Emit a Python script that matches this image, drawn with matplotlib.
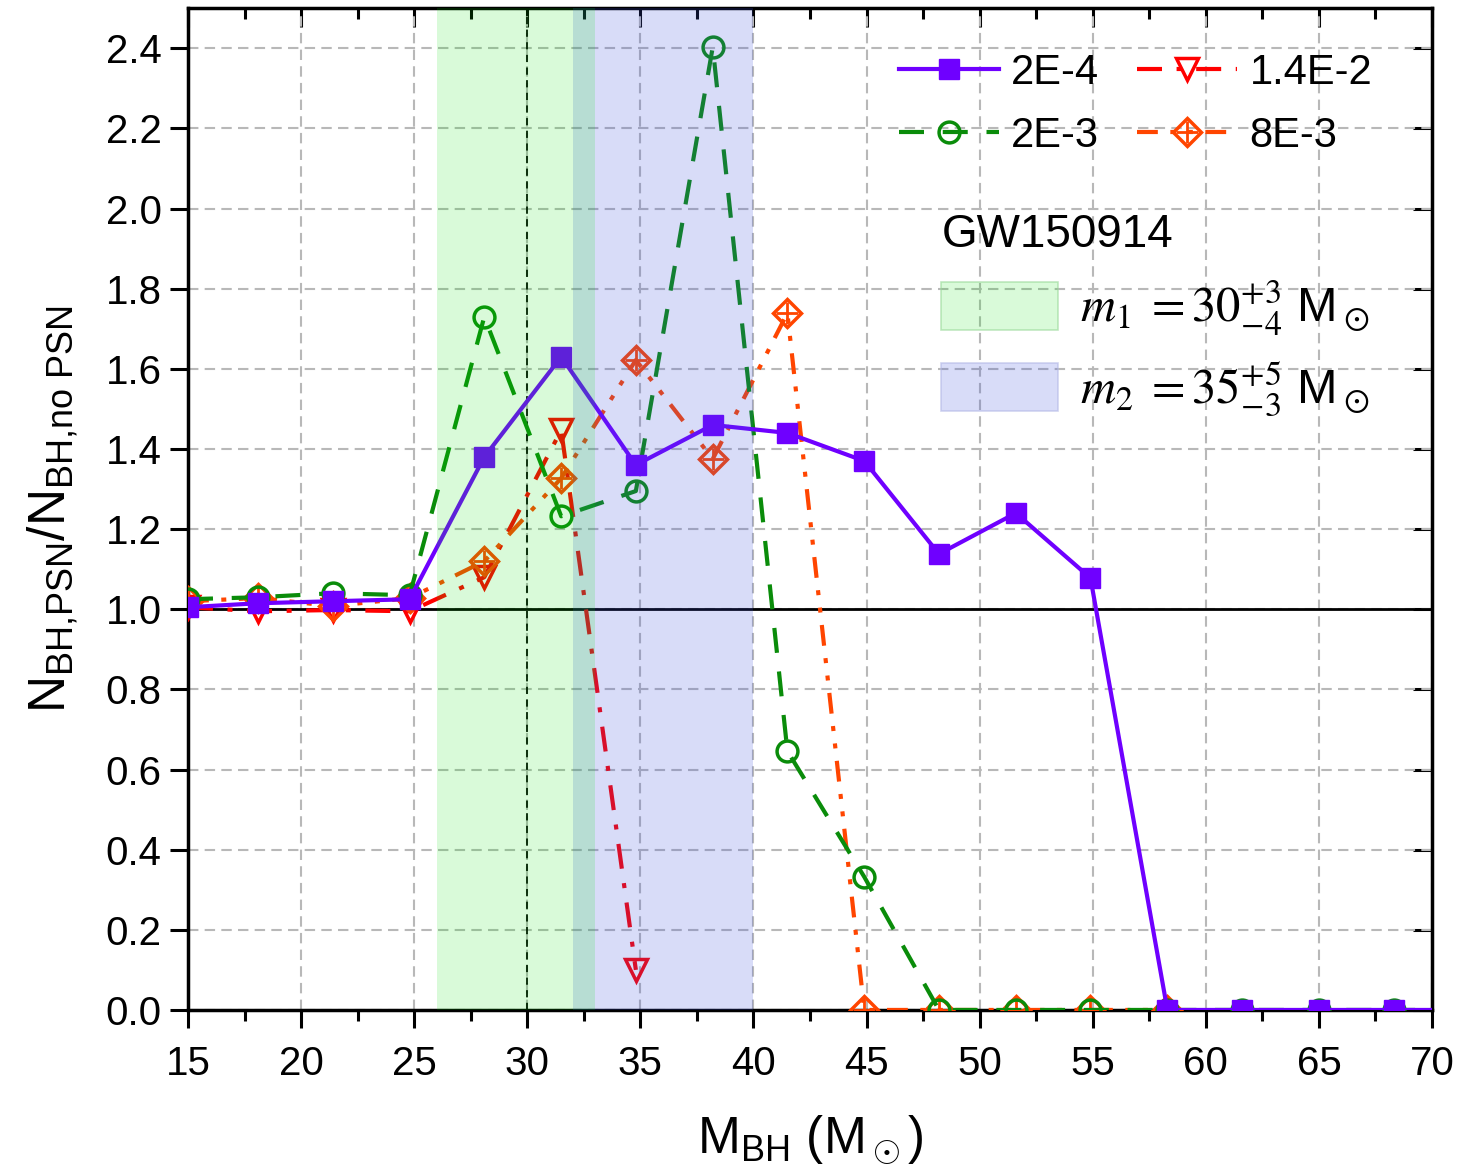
import matplotlib
matplotlib.use("Agg")
import matplotlib.pyplot as plt
from matplotlib.patches import Patch
from matplotlib.font_manager import FontProperties
from matplotlib.ticker import MultipleLocator

plt.rcParams['font.family'] = ['Liberation Sans', 'DejaVu Sans']
plt.rcParams['mathtext.fontset'] = 'custom'
plt.rcParams['mathtext.rm'] = 'Liberation Sans'
plt.rcParams['mathtext.it'] = 'Liberation Sans:italic'
plt.rcParams['mathtext.bf'] = 'Liberation Sans:bold'

# 横軸 (M_BH)
m_bh = [15, 18.1, 21.4, 24.8, 28.1, 31.5, 34.8, 38.2, 41.5, 44.9,
        48.2, 51.6, 54.9, 58.3, 61.6, 65.0, 68.3, 71.7]

# 各系列の比 N_PSN / N_noPSN
r_2e4 = [1.005, 1.015, 1.02, 1.025, 1.38, 1.63, 1.36, 1.46, 1.44, 1.37,
         1.138, 1.24, 1.078, 0, 0, 0, 0, 0]
r_2e3 = [1.025, 1.03, 1.04, 1.035, 1.73, 1.232, 1.295, 2.403, 0.646, 0.332,
         0, 0, 0, 0, 0, 0, 0, 0]
r_14e2 = [1.005, 0.995, 0.998, 0.995, 1.08, 1.447, 0.10]
r_8e3 = [1.02, 1.028, 1.008, 1.028, 1.12, 1.327, 1.622, 1.375, 1.739, 0,
         0, 0, 0, 0]

# GW150914 の質量範囲
m1_range = (26, 33)
m2_range = (32, 40)
m1_center = 30

c_purple = '#6f00ff'
c_green = '#0a8c0a'
c_red = '#ff0000'
c_orange = '#ff4500'
band_green = (0, 228/255, 0, 0.15)
band_blue = (60/255, 80/255, 220/255, 0.2)

fig = plt.figure(figsize=(14.71, 11.73), dpi=100)
ax = fig.add_axes([0.1278, 0.139, 0.9735-0.1278, 0.993-0.139])

ax.grid(True, color='#b8b8b8', linestyle=(0, (5, 3)), linewidth=1.5)
ax.set_axisbelow(True)

ax.axhline(1.0, color='black', lw=2, zorder=2)
ax.axvline(m1_center, color='black', lw=1.3, ls=(0, (4, 3)), zorder=2)

l1, = ax.plot(m_bh, r_2e4, color=c_purple, lw=3, marker='s', ms=14,
              mfc=c_purple, mec=c_purple, zorder=6)
l2, = ax.plot(m_bh, r_2e3, color=c_green, lw=3, ls=(0, (6, 4.5)), marker='o', ms=15,
              mfc='none', mec=c_green, mew=2.5, zorder=5)
l3, = ax.plot(m_bh[:len(r_14e2)], r_14e2, color=c_red, lw=3,
              ls=(0, (6, 3.5, 1.2, 3.5)), marker='v', ms=16, mfc='none',
              mec=c_red, mew=2.5, zorder=4)
l4, = ax.plot(m_bh[:len(r_8e3)], r_8e3, color=c_orange, lw=3,
              ls=(0, (5, 3, 1.2, 3, 1.2, 3)), marker='D', ms=14, mfc='none',
              mec=c_orange, mew=2.5, zorder=4)
l4b, = ax.plot(m_bh[:len(r_8e3)], r_8e3, ls='none', marker='+', ms=16,
               mec=c_orange, mew=2, zorder=4)

# バンドは線の上に重ねる
ax.axvspan(*m2_range, color=band_blue, lw=0, zorder=7)
ax.axvspan(*m1_range, color=band_green, lw=0, zorder=7)

ax.set_xlim(15, 70)
ax.set_ylim(0, 2.5)
ax.set_xticks(range(15, 71, 5))
ax.xaxis.set_minor_locator(MultipleLocator(2.5))
ax.set_yticks([i * 0.2 for i in range(13)])
ax.set_yticklabels(['%.1f' % (i * 0.2) for i in range(13)])

ax.tick_params(axis='both', which='major', direction='out', length=13, width=2.2,
               labelsize=29, pad=6)
ax.tick_params(axis='x', which='major', pad=12)
ax.tick_params(axis='x', which='minor', direction='out', length=8, width=2.2)
for s in ax.spines.values():
    s.set_linewidth(2.5)

top = ax.secondary_xaxis('top')
top.set_xticks(range(15, 71, 5))
top.xaxis.set_minor_locator(MultipleLocator(2.5))
top.tick_params(which='major', direction='in', length=14, width=2.2, labeltop=False)
top.tick_params(which='minor', direction='in', length=8, width=2.2)
right = ax.secondary_yaxis('right')
right.set_yticks([i * 0.2 for i in range(13)])
right.tick_params(direction='in', length=14, width=2.2, labelright=False)

ax.set_xlabel(r'M$_{\mathrm{BH}}$ (M$_\odot$)', fontsize=37, labelpad=22)
ax.set_ylabel(r'N$_{\mathrm{BH{,}PSN}}$/N$_{\mathrm{BH{,}no\ PSN}}$', fontsize=37, labelpad=18)

leg1 = ax.legend([l1, l2, l3, (l4, l4b)], ['2E-4', '2E-3', '1.4E-2', '8E-3'],
                 ncol=2, loc='upper left', bbox_to_anchor=(0.558, 0.972),
                 frameon=False, fontsize=30, handlelength=2.4, handletextpad=0.3,
                 columnspacing=0.9, labelspacing=0.55, borderaxespad=0)
leg1.set_zorder(10)
ax.add_artist(leg1)

lp = FontProperties(family='Liberation Sans', size=35, math_fontfamily='stix')
patches = [Patch(facecolor=band_green, edgecolor=(0.6, 0.85, 0.6, 0.6), lw=1.2),
           Patch(facecolor=band_blue, edgecolor=(0.7, 0.72, 0.9, 0.6), lw=1.2)]
labels = [r'$m_1\;=30^{+3}_{-4}$ M$_\odot$', r'$m_2\;=35^{+5}_{-3}$ M$_\odot$']
leg2 = ax.legend(patches, labels, loc='upper left', bbox_to_anchor=(0.59, 0.815),
                 frameon=False, prop=lp, title='GW150914', title_fontsize=33,
                 alignment='left', handlelength=2.4, handleheight=1.15,
                 handletextpad=0.45, labelspacing=0.45, borderaxespad=0)
leg2.set_zorder(10)

fig.savefig('out.png', dpi=100)
